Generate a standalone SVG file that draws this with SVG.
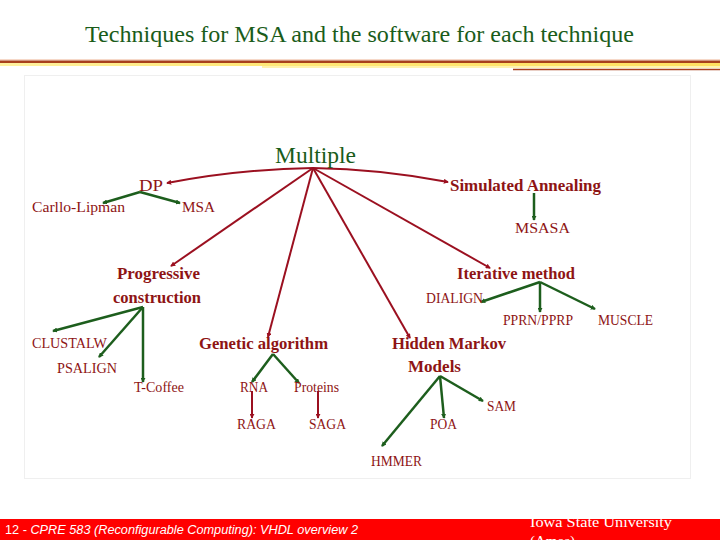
<svg xmlns="http://www.w3.org/2000/svg" width="720" height="540" viewBox="0 0 720 540">
<defs>
<style>
.t{font-family:"Liberation Serif","Times New Roman",serif;fill:#8e1414}
.b{font-weight:bold;font-size:17px}
.s{font-size:14px}
.r{fill:none;stroke:#9b1020;stroke-width:2}
.g{fill:none;stroke:#1d5e1d;stroke-width:2.5}
</style>
<marker id="mr" viewBox="0 0 6 6" refX="5" refY="3" markerWidth="5" markerHeight="5" markerUnits="userSpaceOnUse" orient="auto"><path d="M0,0 L6,3 L0,6 z" fill="#9b1020"/></marker>
<marker id="mg" viewBox="0 0 6 6" refX="5" refY="3" markerWidth="5" markerHeight="5" markerUnits="userSpaceOnUse" orient="auto"><path d="M0,0 L6,3 L0,6 z" fill="#1d5e1d"/></marker>
<linearGradient id="yl" x1="0" x2="1" y1="0" y2="0"><stop offset="0" stop-color="#fff2a0"/><stop offset="0.35" stop-color="#ffe87a"/><stop offset="1" stop-color="#ffe060"/></linearGradient>
</defs>
<rect x="0" y="0" width="720" height="540" fill="#ffffff"/>
<g id="header">
<text x="85" y="42" font-family="'Liberation Serif','Times New Roman',serif" font-size="23" fill="#1a5c1a" textLength="549" lengthAdjust="spacingAndGlyphs">Techniques for MSA and the software for each technique</text>
<rect x="0" y="59" width="720" height="1.5" fill="#f6d8c8"/>
<rect x="0" y="60.5" width="720" height="2.5" fill="#a8401c"/>
<rect x="0" y="63" width="720" height="3" fill="url(#yl)"/>
<rect x="262" y="66" width="458" height="2" fill="#fff3b0"/>
<line x1="513" y1="69.5" x2="720" y2="69.5" stroke="#a8401c" stroke-width="1.5"/>
</g>
<rect x="24.5" y="75.5" width="666" height="403" fill="none" stroke="#efefef" stroke-width="1"/>
<g id="connectors">
<path class="r" d="M313,168 Q240,169 167,183" marker-end="url(#mr)"/>
<path class="r" d="M313,168 Q380,169 448,182" marker-end="url(#mr)"/>
<path class="r" d="M313,168 L171,266" marker-end="url(#mr)"/>
<path class="r" d="M313,168 L268,337" marker-end="url(#mr)"/>
<path class="r" d="M313,168 L410,338" marker-end="url(#mr)"/>
<path class="r" d="M313,168 L490,268" marker-end="url(#mr)"/>
<path class="r" d="M252,391 L252,418" marker-end="url(#mr)"/>
<path class="r" d="M318,391 L318,418" marker-end="url(#mr)"/>
<path class="g" d="M140,192 L103,203" marker-end="url(#mg)"/>
<path class="g" d="M140,192 L180,203" marker-end="url(#mg)"/>
<path class="g" d="M534,193 L534,220" marker-end="url(#mg)"/>
<path class="g" d="M143,307 L53,331" marker-end="url(#mg)"/>
<path class="g" d="M143,307 L99,357" marker-end="url(#mg)"/>
<path class="g" d="M143,307 L143,382" marker-end="url(#mg)"/>
<path class="g" d="M273,354 L252,382" marker-end="url(#mg)"/>
<path class="g" d="M273,354 L299,383" marker-end="url(#mg)"/>
<path class="g" d="M540,282 L481,302" marker-end="url(#mg)"/>
<path class="g" d="M540,282 L540,312" marker-end="url(#mg)"/>
<path class="g" d="M540,282 L595,309" marker-end="url(#mg)"/>
<path class="g" d="M440,376 L382,446" marker-end="url(#mg)"/>
<path class="g" d="M440,376 L444,418" marker-end="url(#mg)"/>
<path class="g" d="M440,376 L483,401" marker-end="url(#mg)"/>
</g>
<g id="multiple"><text x="275" y="163" font-family="'Liberation Serif','Times New Roman',serif" font-size="23" fill="#1a5c1a" textLength="81" lengthAdjust="spacingAndGlyphs">Multiple</text></g>
<g id="dp"><text class="t" x="139" y="191" font-size="16" textLength="24" lengthAdjust="spacingAndGlyphs">DP</text></g>
<g id="carllo"><text class="t s" x="32" y="212" textLength="93" lengthAdjust="spacingAndGlyphs">Carllo-Lipman</text></g>
<g id="msa"><text class="t s" x="182" y="212" textLength="33" lengthAdjust="spacingAndGlyphs">MSA</text></g>
<g id="simann"><text class="t b" x="450" y="191" textLength="151" lengthAdjust="spacingAndGlyphs">Simulated Annealing</text></g>
<g id="msasa"><text class="t s" x="515" y="233" textLength="55" lengthAdjust="spacingAndGlyphs">MSASA</text></g>
<g id="progressive"><text class="t b" x="117" y="279" textLength="83" lengthAdjust="spacingAndGlyphs">Progressive</text><text class="t b" x="113" y="303" textLength="88" lengthAdjust="spacingAndGlyphs">construction</text></g>
<g id="clustalw"><text class="t s" x="32" y="348" textLength="75" lengthAdjust="spacingAndGlyphs">CLUSTALW</text></g>
<g id="psalign"><text class="t s" x="57" y="373" textLength="60" lengthAdjust="spacingAndGlyphs">PSALIGN</text></g>
<g id="tcoffee"><text class="t s" x="134" y="392" textLength="50" lengthAdjust="spacingAndGlyphs">T-Coffee</text></g>
<g id="genetic"><text class="t b" x="199" y="349" textLength="129" lengthAdjust="spacingAndGlyphs">Genetic algorithm</text></g>
<g id="rna"><text class="t s" x="240" y="392" textLength="28" lengthAdjust="spacingAndGlyphs">RNA</text></g>
<g id="proteins"><text class="t s" x="294" y="392" textLength="45" lengthAdjust="spacingAndGlyphs">Proteins</text></g>
<g id="raga"><text class="t s" x="237" y="429" textLength="39" lengthAdjust="spacingAndGlyphs">RAGA</text></g>
<g id="saga"><text class="t s" x="309" y="429" textLength="37" lengthAdjust="spacingAndGlyphs">SAGA</text></g>
<g id="iterative"><text class="t b" x="457" y="279" textLength="118" lengthAdjust="spacingAndGlyphs">Iterative method</text></g>
<g id="dialign"><text class="t s" x="426" y="303" textLength="57" lengthAdjust="spacingAndGlyphs">DIALIGN</text></g>
<g id="pprn"><text class="t s" x="503" y="325" textLength="70" lengthAdjust="spacingAndGlyphs">PPRN/PPRP</text></g>
<g id="muscle"><text class="t s" x="598" y="325" textLength="55" lengthAdjust="spacingAndGlyphs">MUSCLE</text></g>
<g id="hmm"><text class="t b" x="392" y="349" textLength="114" lengthAdjust="spacingAndGlyphs">Hidden Markov</text><text class="t b" x="408" y="372" textLength="53" lengthAdjust="spacingAndGlyphs">Models</text></g>
<g id="sam"><text class="t s" x="487" y="411" textLength="29" lengthAdjust="spacingAndGlyphs">SAM</text></g>
<g id="poa"><text class="t s" x="430" y="429" textLength="27" lengthAdjust="spacingAndGlyphs">POA</text></g>
<g id="hmmer"><text class="t s" x="371" y="466" textLength="51" lengthAdjust="spacingAndGlyphs">HMMER</text></g>
<g id="footer">
<rect x="0" y="519" width="720" height="21" fill="#ff0000"/>
<text x="5" y="534" font-family="'Liberation Sans',Arial,sans-serif" font-size="12" fill="#ffffff" textLength="353" lengthAdjust="spacingAndGlyphs">12 - <tspan font-style="italic">CPRE 583 (Reconfigurable Computing):  VHDL overview 2</tspan></text>
<text x="530" y="527" font-family="'Liberation Serif','Times New Roman',serif" font-size="15" fill="#ffffff" textLength="142" lengthAdjust="spacingAndGlyphs">Iowa State University</text>
<text x="530" y="546" font-family="'Liberation Serif','Times New Roman',serif" font-size="15" fill="#ffffff">(Ames)</text>
</g>
</svg>
